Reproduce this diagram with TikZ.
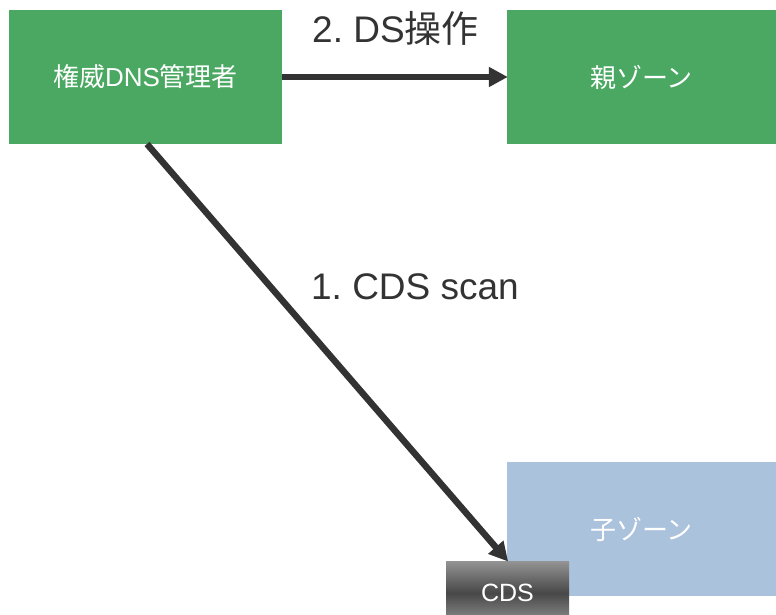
\documentclass[tikz,border=0pt]{standalone}
\usepackage{fontspec}
\setmainfont{Liberation Sans}
\newfontfamily\cjk{Noto Sans CJK JP}
\usetikzlibrary{arrows.meta}
\frenchspacing
\definecolor{boxgreen}{HTML}{4BA862}
\definecolor{boxblue}{HTML}{ABC2DD}
\definecolor{arrowgray}{HTML}{333333}
\tikzset{
  greenbox/.style={fill=boxgreen, draw=none, text=white, inner sep=0pt, font=\fontsize{26}{30}\selectfont},
  bluebox/.style={fill=boxblue, draw=none, text=white, inner sep=0pt, font=\fontsize{26}{30}\selectfont},
  cdsbox/.style={draw=none, top color=black!42, bottom color=black!42, middle color=black!72, text=white, inner sep=0pt, font=\fontsize{25}{28}\selectfont},
  conn/.style={draw=arrowgray, line width=6.5pt, -{Triangle[length=19pt,width=19pt]}, shorten >=-1pt},
  lbl/.style={text=arrowgray, anchor=base, inner sep=0pt, font=\fontsize{37}{42}\selectfont}
}
\begin{document}
\begin{tikzpicture}[x=1pt,y=-1pt]
\clip (0,0) rectangle (776,615);
\fill[white] (0,0) rectangle (776,615);
\node[greenbox, minimum width=273pt, minimum height=134pt] (mgr) at (145.5,77) {\raisebox{-2.5pt}{{\cjk 権威}DNS{\cjk 管理者}}};
\node[greenbox, minimum width=269pt, minimum height=134pt] (parent) at (641.5,77) {\raisebox{-2.5pt}{\cjk 親ゾーン}};
\node[bluebox, minimum width=269pt, minimum height=134pt] (child) at (641.5,529) {\raisebox{-2.5pt}{\cjk 子ゾーン}};
\node[cdsbox, minimum width=123pt, minimum height=64pt] (cds) at (507.5,593) {\raisebox{-1.5pt}{CDS}};
\draw[conn] (mgr.east) -- (parent.west);
\draw[conn] (147,144) -- (cds.north);
\node[lbl] (l2) at (395.5,43) {2. DS{\cjk 操作}};
\node[lbl] (l1) at (415,299) {1. CDS scan};
\end{tikzpicture}
\end{document}
